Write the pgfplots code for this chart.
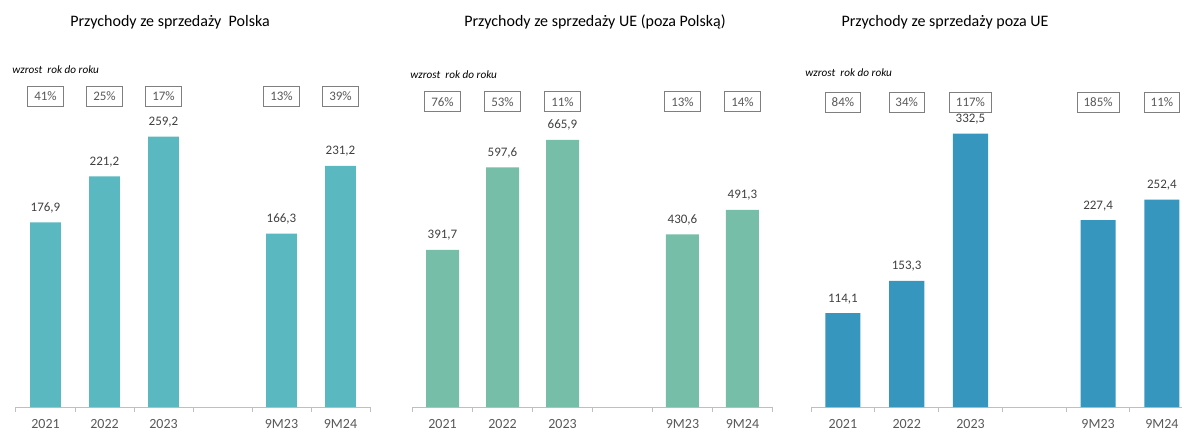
\documentclass[border=0pt]{standalone}
\usepackage{fontspec}
\setmainfont{Carlito}
\usepackage{pgfplots}
\pgfplotsset{compat=1.18}
\definecolor{c1}{HTML}{5AB8C1}
\definecolor{c2}{HTML}{76BEA7}
\definecolor{c3}{HTML}{3696BE}
\definecolor{axgray}{HTML}{BFBFBF}
\definecolor{tickgray}{HTML}{595959}
\definecolor{valgray}{HTML}{404040}
\definecolor{boxgray}{HTML}{7F7F7F}
\pgfplotsset{
  panel/.style={
    scale only axis, anchor=south west,
    height=173.5pt,
    xmin=-0.5, ymin=0,
    axis x line=bottom, axis y line=none,
    x axis line style={-, draw=axgray, line width=0.5pt},
    xtick={0,...,5},
    xticklabels={2021,2022,2023,,9M23,9M24},
    major tick length=0pt,
    minor xtick={-0.5,0.5,...,5.5},
    minor tick length=2.5pt,
    tick align=outside,
    tick style={draw=axgray, line width=0.5pt},
    xticklabel style={font=\fontsize{7}{8}\selectfont, text=tickgray, anchor=base, inner sep=0pt, yshift=-10.5pt},
    clip=false,
    /pgf/number format/use comma,
    /pgf/number format/fixed,
    /pgf/number format/fixed zerofill,
    /pgf/number format/precision=1,
    /pgf/number format/assume math mode=true,
  },
  vals/.style={ybar, bar width=#1, draw=none, nodes near coords,
    nodes near coords style={font=\fontsize{6.5}{7.5}\selectfont, text=valgray, anchor=base, inner sep=0pt, yshift=5.5pt}},
  boxes/.style={only marks, mark=none, nodes near coords, point meta=explicit symbolic,
    nodes near coords style={draw=boxgray, fill=white, font=\fontsize{6.5}{7.5}\selectfont, text=tickgray, anchor=center, inner xsep=3.2pt, inner ysep=0pt, minimum height=10pt, line width=0.5pt}},
}
\begin{document}
\begin{tikzpicture}
\path[use as bounding box] (0,0) rectangle (591.5pt,214.5pt);
% Panel 1
\begin{axis}[panel, at={(8pt,11pt)}, width=177pt, xmax=5.5, ymax=332.7]
\addplot[boxes] coordinates {(0,297.9)[41\%] (1,297.9)[25\%] (2,297.9)[17\%] (4,297.9)[13\%] (5,297.9)[39\%]};
\addplot[vals=0.525, fill=c1] coordinates {(0,176.9) (1,221.2) (2,259.2) (4,166.3) (5,231.2)};
\end{axis}
% Panel 2
\begin{axis}[panel, at={(206.25pt,11pt)}, width=180pt, xmax=5.5, ymax=865.3]
\addplot[boxes] coordinates {(0,760.6)[76\%] (1,760.6)[53\%] (2,760.6)[11\%] (4,760.6)[13\%] (5,760.6)[14\%]};
\addplot[vals=0.55, fill=c2] coordinates {(0,391.7) (1,597.6) (2,665.9) (4,430.6) (5,491.3)};
\end{axis}
% Panel 3
\begin{axis}[panel, at={(405.5pt,11pt)}, width=185.65pt, xmax=5.32, ymax=422.1]
\addplot[boxes] coordinates {(0,370.5)[84\%] (1,370.5)[34\%] (2,370.5)[117\%] (4,370.5)[185\%] (5,370.5)[11\%]};
\addplot[vals=0.55, fill=c3] coordinates {(0,114.1) (1,153.3) (2,332.5) (4,227.4) (5,252.4)};
\end{axis}
% Titles
\node[anchor=base, font=\fontsize{8}{9.6}\selectfont] at (85pt,201pt) {Przychody ze sprzedaży\ \ Polska};
\node[anchor=base, font=\fontsize{8}{9.6}\selectfont] at (297.5pt,201pt) {Przychody ze sprzedaży UE (poza Polską)};
\node[anchor=base, font=\fontsize{8}{9.6}\selectfont] at (472.5pt,201pt) {Przychody ze sprzedaży poza UE};
\node[anchor=base west, inner sep=0pt, font=\fontsize{5.6}{6.7}\selectfont\itshape] at (6pt,177.5pt) {wzrost\ \ rok do roku};
\node[anchor=base west, inner sep=0pt, font=\fontsize{5.6}{6.7}\selectfont\itshape] at (205pt,175pt) {wzrost\ \ rok do roku};
\node[anchor=base west, inner sep=0pt, font=\fontsize{5.6}{6.7}\selectfont\itshape] at (402.5pt,176pt) {wzrost\ \ rok do roku};
\end{tikzpicture}
\end{document}
